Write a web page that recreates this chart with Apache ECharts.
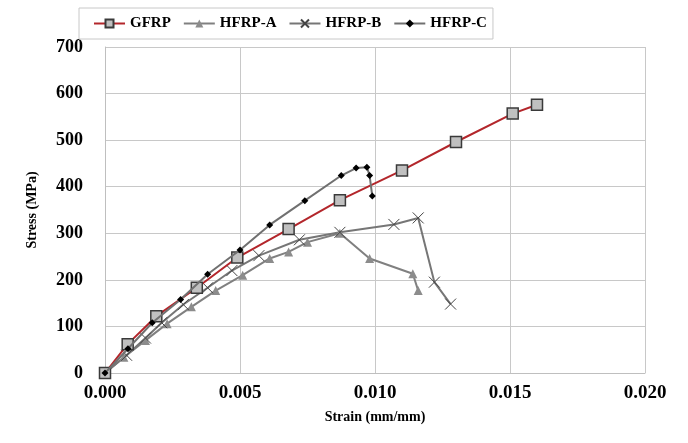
<!DOCTYPE html>
<html>
<head>
<meta charset="utf-8">
<script src="https://cdn.jsdelivr.net/npm/echarts@6/dist/echarts.min.js"></script>
<style>
  html, body { margin: 0; padding: 0; background: #fff; }
  #main { width: 688px; height: 443px; }
</style>
</head>
<body>
<div id="main"></div>
<script>
  // strain (mm/mm), stress (MPa)
  var gfrp = [[0,0],[0.00084,62],[0.0019,122],[0.0034,183],[0.0049,248],[0.0068,309],
              [0.0087,371],[0.0110,435],[0.0130,496],[0.0151,557],[0.0160,576]];
  var hfrpA = [[0,0],[0.0007,34],[0.0015,70],[0.0023,106],[0.0032,142],[0.0041,177],
               [0.0051,210],[0.0061,246],[0.0068,260],[0.0075,281],[0.0087,300],
               [0.0098,246],[0.0114,213],[0.0116,177]];
  var hfrpB = [[0,0],[0.0008,38],[0.0015,75],[0.0021,108],[0.0029,147],[0.0038,183],
               [0.0047,220],[0.0057,252],[0.0072,286],[0.0087,302],[0.0107,319],
               [0.0116,333],[0.0122,195],[0.0128,148]];
  var hfrpC = [[0,0],[0.00085,52],[0.00175,108],[0.0028,158],[0.0038,212],[0.0050,264],
               [0.0061,318],[0.0074,370],[0.00875,424],[0.0093,440],[0.0097,442],
               [0.0098,424],[0.0099,380]];

  var myChart = echarts.init(document.getElementById('main'));
  var font = 'Liberation Serif';
  var crossPath = 'path://M0,0L10,10M10,0L0,10';

  var options = {
    backgroundColor: '#fff',
    animation: false,
    textStyle: { fontFamily: font },
    legend: {
      left: 79, top: 8,
      padding: [8, 6, 8, 14],
      borderColor: '#c8c8c8',
      borderWidth: 1,
      itemWidth: 31, itemHeight: 10,
      itemGap: 12,
      textStyle: { fontFamily: font, fontWeight: 'bold', fontSize: 15, color: '#000' },
      data: ['GFRP', 'HFRP-A', 'HFRP-B', 'HFRP-C']
    },
    grid: { left: 105, right: 43, top: 47, bottom: 70 },
    xAxis: {
      type: 'value', min: 0, max: 0.02, interval: 0.005,
      name: 'Strain (mm/mm)', nameLocation: 'middle', nameGap: 37,
      nameTextStyle: { fontFamily: font, fontWeight: 'bold', fontSize: 14, color: '#000' },
      axisLine: { show: true, lineStyle: { color: '#bfbfbf' } },
      axisTick: { show: false },
      splitLine: { show: true, lineStyle: { color: '#c8c8c8' } },
      axisLabel: {
        fontFamily: font, fontWeight: 'bold', fontSize: 19, color: '#000', margin: 11,
        formatter: function (v) { return v.toFixed(3); }
      }
    },
    yAxis: {
      type: 'value', min: 0, max: 700, interval: 100,
      name: 'Stress (MPa)', nameLocation: 'middle', nameGap: 66,
      nameTextStyle: { fontFamily: font, fontWeight: 'bold', fontSize: 14, color: '#000' },
      axisLine: { show: true, lineStyle: { color: '#bfbfbf' } },
      axisTick: { show: false },
      splitLine: { show: true, lineStyle: { color: '#c8c8c8' } },
      axisLabel: { fontFamily: font, fontWeight: 'bold', fontSize: 18, color: '#000', margin: 22 }
    },
    series: [
      {
        name: 'GFRP', type: 'line', data: gfrp, z: 3,
        symbol: 'rect', symbolSize: 11,
        lineStyle: { color: '#b3262b', width: 2 },
        itemStyle: { color: '#c0c0c0', borderColor: '#3a3a3a', borderWidth: 1.5 }
      },
      {
        name: 'HFRP-A', type: 'line', data: hfrpA, z: 2,
        symbol: 'triangle', symbolSize: 9,
        lineStyle: { color: '#808080', width: 2 },
        itemStyle: { color: '#8c8c8c' }
      },
      {
        name: 'HFRP-B', type: 'line', data: hfrpB, z: 2,
        symbol: crossPath, symbolSize: 11,
        lineStyle: { color: '#767676', width: 2 },
        itemStyle: { color: 'rgba(0,0,0,0)', borderColor: '#444', borderWidth: 1 }
      },
      {
        name: 'HFRP-C', type: 'line', data: hfrpC, z: 4,
        symbol: 'diamond', symbolSize: 7,
        lineStyle: { color: '#707070', width: 2 },
        itemStyle: { color: '#000' }
      }
    ]
  };
  myChart.setOption(options);
</script>
</body>
</html>
